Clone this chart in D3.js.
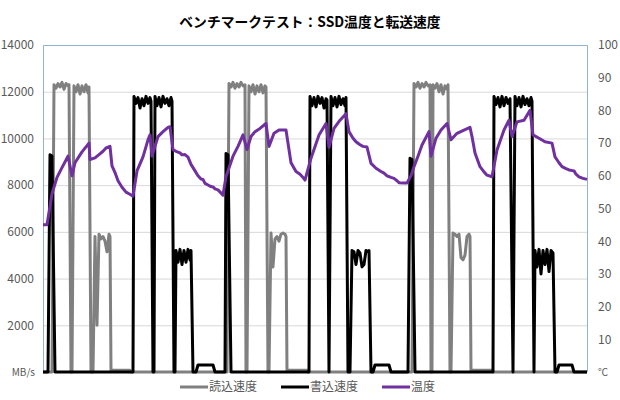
<!DOCTYPE html>
<html>
<head>
<meta charset="utf-8">
<script src="https://cdn.jsdelivr.net/npm/d3@7"></script>
<style>
  html, body { margin: 0; padding: 0; background: #fff; }
  svg { display: block; }
  text { font-family: "Noto Sans CJK JP", "Noto Sans", sans-serif; }
</style>
</head>
<body>
<svg id="chart" width="620" height="400"></svg>
<script>
// ---------- DATA ----------
const title = "ベンチマークテスト：SSD温度と転送速度";
const seriesNames = ["読込速度", "書込速度", "温度"];
const leftTicks = [0, 2000, 4000, 6000, 8000, 10000, 12000, 14000];
const rightTicks = [0, 10, 20, 30, 40, 50, 60, 70, 80, 90, 100];
const leftUnit = "MB/s";
const rightUnit = "℃";
const timeMax = 544; // sample index range

// read speed [sample, MB/s]
const readData = [
  [0,0],[9,0],[11,12300],[13,12150],[15,12350],[17,12200],[19,12400],[21,12100],[23,12350],[25,12250],[26,12300],[28,0],[29,0],
  [31,12250],[33,12000],[35,12300],[37,11900],[39,12250],[41,12000],[43,12300],[45,11950],[46,12200],[48,0],[50,0],
  [52,5800],[54,2000],[56,5900],[58,5700],[60,5800],[62,5600],[64,5150],[66,5900],[67,5800],[68,80],[87,80],[88,0],
  [184,0],[186,12350],[188,12200],[190,12400],[192,12150],[194,12350],[196,12200],[198,12400],[200,12250],[202,12300],[203,0],[204,0],
  [206,12250],[208,12000],[210,12300],[212,11900],[214,12250],[216,12000],[218,12300],[220,11950],[222,12250],[223,12200],[225,0],[226,0],
  [228,5950],[230,4500],[232,5700],[234,5800],[236,5600],[238,5900],[240,5950],[242,5900],[243,5800],[244,80],[264,80],[265,0],
  [369,0],[371,12350],[373,12200],[375,12400],[377,12150],[379,12350],[381,12200],[383,12400],[385,12250],[387,12300],[388,0],[389,0],
  [390,12300],[392,12150],[394,12350],[396,12000],[398,12300],[400,11900],[402,12250],[404,12100],[405,12300],[407,0],[408,0],
  [410,5950],[412,5900],[414,5800],[416,5900],[418,4900],[420,4800],[422,5000],[424,5800],[426,5900],[427,5800],[428,80],[449,80],[450,0],[544,0]
];

// write speed [sample, MB/s]
const writeData = [
  [0,0],[5,0],[7,9300],[9,9250],[12,0],[90,0],
  [91,11800],[93,11500],[95,11750],[97,11300],[99,11700],[101,11400],[103,11800],[105,11500],[107,11750],[108,11600],[110,0],[111,0],
  [112,11800],[114,11400],[116,11750],[118,11350],[120,11800],[122,11500],[124,11700],[126,11400],[128,11750],[129,11600],[131,0],[132,0],
  [133,5200],[135,4700],[137,5250],[139,4600],[141,5200],[143,4700],[145,5250],[147,4800],[148,5200],[150,0],[153,0],[155,300],[170,300],[172,0],
  [182,0],[183,9350],[185,9300],[188,0],
  [266,0],[267,11800],[269,11400],[271,11750],[273,11350],[275,11800],[277,11500],[279,11750],[281,11300],[283,11700],[284,11650],[286,0],
  [288,11800],[290,11400],[292,11750],[294,11350],[296,11800],[298,11450],[300,11700],[302,11400],[303,11750],[305,0],[307,0],
  [309,5200],[311,5150],[313,4600],[315,5200],[317,5100],[319,4500],[321,4600],[323,5200],[325,5150],[326,5200],[328,0],[330,0],[332,300],[346,300],[348,0],
  [365,0],[367,9150],[369,9100],[372,0],
  [450,0],[451,11800],[453,11450],[455,11750],[457,11350],[459,11800],[461,11400],[463,11750],[465,11500],[467,11700],[470,0],
  [472,11800],[474,11400],[476,11750],[478,11350],[480,11800],[482,11450],[484,11700],[486,11400],[488,11750],[489,11600],[491,0],
  [492,5200],[494,4500],[496,5250],[498,4200],[500,5200],[502,4600],[504,5250],[506,4300],[508,5200],[510,5100],[512,0],[514,0],[516,300],[529,300],[531,0],[544,0]
];

// temperature [sample, °C]
const tempData = [
  [0,45],[4,45],[9,54.5],[14,59.5],[19,62.5],[25,66],[29,60],[32,64],[39,67.3],[46,70],[47,65],[52,65.5],[56,66.5],[60,67.5],[63,68.5],[67,69],
  [69,63],[72,61],[75,58.5],[79,56.5],[83,55],[86,54.5],[90,53.8],[94,61.5],[100,65.8],[105,71],[107,72.5],[109,66],[115,72],[120,73.5],[125,74.8],[127,75],
  [130,68],[133,67.5],[137,67],[139,66.4],[142,66.5],[145,65.7],[148,63.5],[152,61.5],[155,60],[158,59],[160,58.9],[162,57.7],[165,57.2],[168,56.7],[170,56.6],[172,56],[175,55.7],[180,54.1],
  [183,59.7],[190,66],[195,69],[200,72.5],[204,68],[208,72],[212,73.5],[217,74.5],[223,76],[226,69],[231,73],[236,74],[243,74],
  [248,64],[253,61.3],[257,60.5],[260,59.5],[262,58.7],[268,65.4],[276,72.5],[283,76],[286,68.7],[291,74.5],[297,77],[303,79],
  [306,73.5],[310,71.5],[313,70.4],[317,69.5],[320,69],[324,68.8],[328,63.8],[333,62.3],[338,61.3],[341,60.8],[344,60],[348,59.5],[351,59.2],[354,58.5],[356,57.9],[361,57.8],[364,57.8],
  [368,60],[371,62.8],[375,66],[379,69.4],[386,73.5],[388,66],[393,71.5],[398,74],[401,75],[404,76],[408,71],[414,73],[421,74],[427,74.8],
  [429,72],[432,67],[437,62.8],[441,61.2],[444,60.2],[449,59.7],[454,67.9],[461,74],[466,77],[469,72],[474,76.5],[481,77],[487,80],
  [490,72.5],[496,71.5],[502,70.4],[509,70],[512,65.8],[516,64],[519,62.8],[523,62.2],[526,61.8],[531,61.5],[533,60.5],[536,59.7],[540,59.2],[544,58.9]
];

const colors = ["#808080", "#000000", "#7030A0"];

// ---------- LAYOUT ----------
const svg = d3.select("#chart");
const plot = { left: 43, right: 587, top: 45, bottom: 372 };

const x = d3.scaleLinear().domain([0, timeMax]).range([plot.left, plot.right]);
const yL = d3.scaleLinear().domain([0, 14000]).range([plot.bottom, plot.top]);
const yR = d3.scaleLinear().domain([0, 100]).range([plot.bottom, plot.top]);

svg.append("rect").attr("width", 620).attr("height", 400).attr("fill", "#fff");

// title
svg.append("text")
  .attr("x", 310).attr("y", 27)
  .attr("text-anchor", "middle")
  .attr("font-size", 13.8).attr("font-weight", "bold").attr("fill", "#000")
  .text(title);

// gridlines
svg.append("g").selectAll("line").data(leftTicks.filter(d => d > 0 && d < 14000)).join("line")
  .attr("x1", plot.left).attr("x2", plot.right)
  .attr("y1", d => yL(d) + 0.5).attr("y2", d => yL(d) + 0.5)
  .attr("stroke", "#d9d9d9").attr("stroke-width", 1);

// bottom axis line
svg.append("line")
  .attr("x1", plot.left).attr("x2", plot.right)
  .attr("y1", plot.bottom + 0.5).attr("y2", plot.bottom + 0.5)
  .attr("stroke", "#d9d9d9");

// plot border (top, left, right)
svg.append("path")
  .attr("d", `M${plot.left + 0.5},${plot.bottom}V${plot.top + 0.5}H${plot.right + 0.5}V${plot.bottom}`)
  .attr("fill", "none").attr("stroke", "#8fb3cf").attr("stroke-width", 1);

// left axis
const leftAxis = d3.axisLeft(yL).tickValues(leftTicks.filter(d => d > 0)).tickSize(0).tickPadding(0).tickFormat(d3.format("d"));
const gL = svg.append("g").attr("transform", `translate(${plot.left - 9},0)`).call(leftAxis);
gL.select(".domain").remove();
gL.selectAll("text").attr("font-size", 12).attr("fill", "#595959")
  .attr("font-family", "\"Noto Sans\", sans-serif");
svg.append("text").attr("x", plot.left - 8).attr("y", plot.bottom)
  .attr("dy", "0.35em").attr("text-anchor", "end")
  .attr("font-size", 10).attr("fill", "#595959").text(leftUnit);

// right axis
const rightAxis = d3.axisRight(yR).tickValues(rightTicks.filter(d => d > 0)).tickSize(0).tickPadding(0).tickFormat(d3.format("d"));
const gR = svg.append("g").attr("transform", `translate(${plot.right + 11},0)`).call(rightAxis);
gR.select(".domain").remove();
gR.selectAll("text").attr("font-size", 12).attr("fill", "#595959")
  .attr("font-family", "\"Noto Sans\", sans-serif");
svg.append("text").attr("x", plot.right + 11).attr("y", plot.bottom)
  .attr("dy", "0.35em").attr("text-anchor", "start")
  .attr("font-size", 10).attr("fill", "#595959").text(rightUnit);

// lines
const lineL = d3.line().x(d => x(d[0])).y(d => yL(d[1]));
const lineR = d3.line().x(d => x(d[0])).y(d => yR(d[1]));

svg.append("path").datum(readData).attr("d", lineL)
  .attr("fill", "none").attr("stroke", colors[0]).attr("stroke-width", 3).attr("stroke-linejoin", "round");
svg.append("path").datum(writeData).attr("d", lineL)
  .attr("fill", "none").attr("stroke", colors[1]).attr("stroke-width", 3).attr("stroke-linejoin", "round");
svg.append("path").datum(tempData).attr("d", lineR)
  .attr("fill", "none").attr("stroke", colors[2]).attr("stroke-width", 3).attr("stroke-linejoin", "round");

// legend
const legendX = [180, 281, 382];
const lg = svg.append("g").selectAll("g").data(seriesNames).join("g")
  .attr("transform", (d, i) => `translate(${legendX[i]},387)`);
lg.append("line").attr("x1", 0).attr("x2", 28).attr("y1", 0).attr("y2", 0)
  .attr("stroke", (d, i) => colors[i]).attr("stroke-width", 3);
lg.append("text").attr("x", 29).attr("y", 0).attr("dy", "0.35em")
  .attr("font-size", 12).attr("fill", "#595959").text(d => d);
</script>
</body>
</html>
